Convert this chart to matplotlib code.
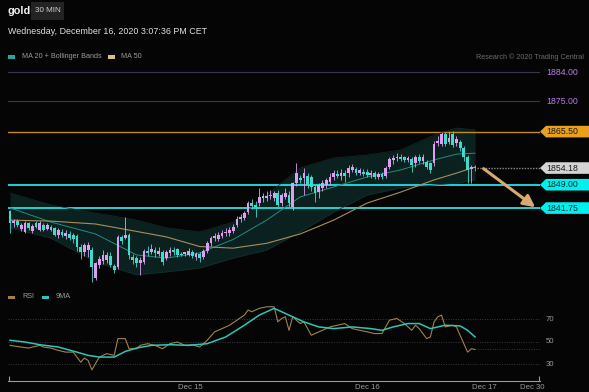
import numpy as np
import matplotlib
matplotlib.use('Agg')
import matplotlib.pyplot as plt
from matplotlib.patches import Polygon, Rectangle
from matplotlib.transforms import blended_transform_factory

plt.rcParams['font.family'] = ['Liberation Sans', 'DejaVu Sans']

# 30 min candles (Dec 14 -> Dec 16 15:00)
opens = [1840.9, 1837.0, 1837.8, 1835.2, 1834.4, 1837.0, 1834.5, 1837.0, 1835.0, 1836.5,
         1835.2, 1836.0, 1835.5, 1833.4, 1834.4, 1833.2, 1833.8, 1833.4, 1833.1, 1829.8,
         1828.2, 1828.7, 1828.7, 1820.0, 1824.0, 1825.3, 1825.6, 1826.9, 1823.8, 1823.4,
         1832.9, 1832.5, 1833.4, 1826.7, 1826.2, 1824.6, 1825.1, 1828.5, 1828.2, 1828.7,
         1827.5, 1828.2, 1826.1, 1827.7, 1828.8, 1828.9, 1827.5, 1827.6, 1827.3, 1828.2,
         1826.7, 1827.5, 1826.5, 1828.3, 1830.8, 1832.3, 1832.2, 1833.0, 1834.0, 1834.0,
         1834.7, 1836.5, 1838.5, 1838.6, 1840.6, 1843.2, 1842.8, 1843.2, 1845.0, 1845.0,
         1845.5, 1844.8, 1846.3, 1843.2, 1845.3, 1845.8, 1842.0, 1849.4, 1851.0, 1851.0,
         1851.7, 1851.5, 1848.4, 1846.8, 1847.9, 1849.0, 1849.9, 1851.5, 1852.4, 1851.8,
         1852.6, 1852.5, 1853.7, 1853.8, 1852.6, 1853.0, 1853.0, 1852.0, 1852.5, 1851.5,
         1852.2, 1851.8, 1854.6, 1856.8, 1857.3, 1857.7, 1857.5, 1856.7, 1856.9, 1855.6,
         1857.5, 1856.4, 1856.2, 1855.6, 1855.6, 1862.0, 1861.8, 1864.9, 1862.4, 1864.8,
         1862.0, 1862.4, 1860.3, 1857.7, 1853.8, 1854.4]
highs = [1841.3, 1838.5, 1838.2, 1837.0, 1837.8, 1837.5, 1836.8, 1837.8, 1837.8, 1837.0,
         1837.0, 1836.5, 1836.0, 1835.5, 1835.2, 1834.8, 1834.5, 1834.0, 1833.8, 1830.5,
         1831.0, 1831.2, 1829.5, 1825.0, 1827.0, 1828.8, 1828.0, 1828.0, 1824.5, 1833.5,
         1833.5, 1839.1, 1834.0, 1827.5, 1827.0, 1826.5, 1829.0, 1830.0, 1830.5, 1829.5,
         1829.5, 1828.8, 1828.8, 1829.5, 1829.5, 1829.3, 1828.0, 1828.2, 1829.2, 1828.8,
         1828.2, 1828.0, 1829.0, 1831.5, 1833.0, 1834.0, 1834.2, 1835.0, 1835.5, 1836.0,
         1836.8, 1839.2, 1840.0, 1840.8, 1843.8, 1844.5, 1844.0, 1848.0, 1846.3, 1847.0,
         1847.5, 1847.0, 1847.5, 1846.5, 1848.0, 1847.0, 1850.0, 1855.6, 1852.0, 1854.1,
         1852.5, 1852.0, 1849.0, 1849.5, 1850.5, 1851.2, 1852.5, 1853.5, 1853.5, 1854.0,
         1853.5, 1855.0, 1855.5, 1854.5, 1854.2, 1854.0, 1853.8, 1853.5, 1853.2, 1853.0,
         1852.8, 1854.8, 1857.5, 1858.2, 1858.7, 1858.5, 1858.0, 1858.0, 1857.5, 1858.2,
         1858.5, 1858.6, 1856.8, 1856.0, 1862.5, 1864.0, 1865.5, 1865.5, 1865.3, 1865.6,
         1864.0, 1863.0, 1861.0, 1858.2, 1855.0, 1855.2]
lows = [1833.9, 1836.0, 1836.0, 1834.5, 1834.0, 1835.0, 1834.0, 1835.5, 1834.5, 1834.5,
        1834.8, 1834.5, 1833.0, 1832.5, 1832.8, 1832.0, 1831.8, 1831.0, 1828.5, 1826.0,
        1827.0, 1826.5, 1818.9, 1819.5, 1823.0, 1824.5, 1824.8, 1823.5, 1821.5, 1822.8,
        1830.5, 1832.0, 1826.0, 1824.5, 1823.5, 1821.0, 1824.5, 1827.0, 1827.5, 1826.5,
        1826.8, 1824.0, 1825.5, 1827.0, 1827.3, 1826.5, 1826.8, 1827.0, 1826.8, 1826.3,
        1825.5, 1825.0, 1825.8, 1827.8, 1830.0, 1831.5, 1831.5, 1832.5, 1833.2, 1833.0,
        1834.0, 1836.0, 1837.5, 1838.0, 1840.0, 1841.5, 1839.1, 1842.5, 1843.5, 1844.0,
        1844.5, 1844.0, 1842.0, 1842.5, 1844.5, 1842.2, 1841.3, 1848.5, 1849.5, 1845.8,
        1848.0, 1847.0, 1843.7, 1845.0, 1847.0, 1848.0, 1849.0, 1850.5, 1851.0, 1850.5,
        1850.0, 1851.5, 1853.0, 1852.0, 1852.0, 1851.8, 1851.3, 1851.0, 1850.8, 1850.8,
        1850.8, 1851.2, 1854.0, 1855.5, 1856.5, 1856.5, 1856.0, 1856.0, 1853.0, 1854.5,
        1855.8, 1855.5, 1854.0, 1852.5, 1854.8, 1861.0, 1861.0, 1861.0, 1861.8, 1860.8,
        1861.0, 1859.5, 1856.5, 1849.4, 1849.6, 1853.3]
closes = [1837.2, 1837.8, 1836.5, 1836.5, 1837.2, 1835.5, 1836.2, 1836.0, 1837.2, 1835.0,
          1836.4, 1835.0, 1833.4, 1835.0, 1833.4, 1833.9, 1832.4, 1832.0, 1829.8, 1828.2,
          1830.3, 1830.3, 1823.5, 1824.6, 1825.8, 1827.2, 1827.2, 1824.1, 1822.5, 1832.9,
          1831.5, 1833.4, 1827.2, 1825.6, 1824.6, 1825.6, 1828.5, 1827.7, 1828.9, 1827.8,
          1828.5, 1825.1, 1828.2, 1828.7, 1828.0, 1827.2, 1827.2, 1827.8, 1828.5, 1826.9,
          1827.6, 1826.1, 1828.5, 1831.0, 1832.5, 1833.2, 1833.4, 1834.1, 1834.4, 1835.0,
          1836.0, 1838.5, 1839.0, 1840.1, 1843.2, 1842.5, 1842.2, 1845.1, 1845.3, 1845.5,
          1845.9, 1846.3, 1842.7, 1845.8, 1846.5, 1843.2, 1849.4, 1852.5, 1850.5, 1852.5,
          1849.0, 1848.4, 1846.3, 1848.9, 1849.4, 1850.5, 1851.5, 1852.5, 1851.8, 1852.7,
          1851.6, 1854.1, 1854.4, 1852.5, 1853.5, 1852.4, 1852.0, 1852.7, 1851.5, 1852.2,
          1851.3, 1854.1, 1856.9, 1857.2, 1857.7, 1857.0, 1856.6, 1857.3, 1855.1, 1857.5,
          1856.4, 1857.5, 1854.6, 1853.6, 1861.8, 1862.6, 1864.9, 1861.8, 1863.4, 1861.3,
          1863.2, 1860.3, 1857.7, 1853.6, 1854.4, 1854.2]

# MA 20 + Bollinger Bands and MA 50, read at some bars
ind_idx = [0, 11, 23, 34, 42, 51, 60, 69, 78, 87, 96, 105, 114, 120, 125]
bb_upper = [1846.4, 1842.7, 1840.2, 1838.0, 1835.6, 1834.3, 1837.4, 1845.8, 1854.2, 1857.3,
            1858.2, 1859.8, 1864.4, 1866.6, 1866.0]
bb_lower = [1835.6, 1832.4, 1825.0, 1821.0, 1821.9, 1823.1, 1826.2, 1828.7, 1834.3, 1840.5,
            1845.8, 1848.0, 1848.9, 1849.5, 1850.5]
ma20 = [1841.8, 1837.4, 1833.7, 1827.2, 1826.2, 1827.8, 1832.0, 1838.0, 1845.2, 1848.3,
        1851.4, 1853.6, 1856.7, 1858.5, 1858.8]
ma50 = [1838.0, 1837.7, 1836.8, 1834.5, 1832.8, 1829.8, 1829.3, 1830.8, 1833.7, 1838.0,
        1843.3, 1846.7, 1850.5, 1852.6, 1854.5]

# RSI and its 9MA
rsi_idx = [0, 3, 5, 6, 8, 9, 11, 13, 15, 17, 18, 19, 20, 21, 22, 24, 26, 28, 29, 31,
           32, 34, 35, 37, 39, 41, 43, 45, 47, 49, 51, 53, 55, 57, 59, 61, 63, 64, 65, 67,
           69, 71, 72, 73, 74, 75, 76, 78, 79, 81, 83, 84, 86, 88, 90, 92, 94, 96, 98, 100,
           102, 104, 106, 108, 109, 110, 112, 113, 114, 115, 116, 117, 119, 120, 122, 123, 124, 125]
rsi_val = [47.0, 45.5, 44.6, 45.5, 47.0, 45.5, 44.6, 42.5, 41.0, 41.0, 36.6, 32.1, 35.7, 33.6,
           25.2, 36.6, 39.6, 38.1, 53.0, 53.0, 44.0, 44.0, 47.0, 48.5, 47.0, 44.0, 48.5, 50.0,
           47.0, 47.6, 45.5, 51.5, 59.0, 61.9, 64.9, 69.4, 73.9, 78.4, 76.9, 79.9, 81.3, 81.3,
           67.9, 70.9, 72.4, 60.4, 72.4, 66.4, 67.9, 56.0, 59.0, 60.4, 63.4, 64.9, 66.4, 61.9,
           60.4, 59.0, 57.5, 57.5, 69.4, 70.9, 66.4, 60.4, 64.9, 61.9, 53.0, 54.5, 67.9, 72.4,
           73.9, 63.4, 64.9, 63.4, 48.5, 41.0, 44.0, 43.4]
ma9_idx = [0, 4, 8, 13, 18, 21, 24, 28, 31, 34, 38, 43, 48, 53, 58, 63, 67, 71, 75, 79,
           83, 87, 92, 97, 100, 103, 107, 110, 113, 117, 121, 123, 125]
ma9_val = [51.5, 50.0, 47.6, 45.5, 41.0, 38.1, 36.6, 36.6, 41.6, 44.6, 47.0, 47.6, 47.0, 48.5,
           54.5, 64.9, 73.9, 79.9, 73.9, 67.9, 63.4, 61.9, 63.4, 61.9, 60.4, 63.4, 66.4, 66.4,
           61.9, 64.9, 64.3, 60.4, 54.5]

tick_pos = [48.4, 96.0, 127.4, 140.3]
tick_labels = ['Dec 15', 'Dec 16', 'Dec 17', 'Dec 30']

last_price = 1854.18

W, H = 589, 392
bg = '#050505'
fig = plt.figure(figsize=(W / 100, H / 100), dpi=100, facecolor=bg)

def fx(px):
    return px / W

def fy(py):
    return 1 - py / H

xmin, xmax = -0.54, 142.47

# price panel
ax = fig.add_axes([fx(8), fy(285), fx(532), 221 / H])
ax.set_facecolor(bg)
ax.set_xlim(xmin, xmax)
ax.set_ylim(1817.85, 1886.5)
for s in ax.spines.values():
    s.set_visible(False)
ax.set_xticks([])
ax.set_yticks([])

ax.fill_between(ind_idx, bb_lower, bb_upper, color='#0b2120', lw=0, zorder=1)
ax.plot(ind_idx, bb_upper, color='#12302e', lw=0.5, zorder=1.5)
ax.plot(ind_idx, bb_lower, color='#12302e', lw=0.5, zorder=1.5)
ax.plot(ind_idx, ma20, color='#268a82', lw=0.7, zorder=2)
ax.plot(ind_idx, ma50, color='#a88d5e', lw=0.8, zorder=2)

# horizontal levels
ax.axhline(1884.00, color='#3d3350', lw=0.8, zorder=1)
ax.axhline(1875.00, color='#3d3350', lw=0.8, zorder=1)
ax.axhline(1865.50, color='#c48a22', lw=1.0, zorder=1)
ax.axhline(1849.00, color='#1fd3d3', lw=1.4, zorder=1)
ax.axhline(1841.75, color='#1fd3d3', lw=1.4, zorder=1)
ax.hlines(last_price, len(closes) - 0.5, xmax, color='#8a8a8a', lw=1.0,
          linestyles=(0, (1, 1)), zorder=1)

# candles
x = np.arange(len(closes))
o = np.array(opens)
c = np.array(closes)
up = c >= o
cols = np.where(up, '#dd9ff0', '#3fdccd')
ax.vlines(x, lows, highs, colors=cols, lw=0.6, zorder=3)
body_h = np.maximum(np.abs(c - o), 0.4)
ax.bar(x, body_h, bottom=np.minimum(o, c), width=0.74, color=cols, lw=0, zorder=4)

# projection arrow
ax.annotate('', xy=(141.2, 1842.0), xytext=(127.3, 1854.0),
            arrowprops=dict(arrowstyle='-|>,head_width=0.35,head_length=0.7',
                            color='#d8a970', lw=2.2, shrinkA=0, shrinkB=0), zorder=5)

# right side price tags
tr = blended_transform_factory(fig.transFigure, ax.transData)
hh = 5.8 / 3.22
tags = [(1865.50, '#e9a01d', '#1a1a1a'), (1854.18, '#d4d4d4', '#1a1a1a'),
        (1849.00, '#00f0f0', '#0a2a2a'), (1841.75, '#00f0f0', '#0a2a2a')]
for val, fc, tc in tags:
    poly = Polygon([(fx(540), val), (fx(546), val + hh), (1.0, val + hh),
                    (1.0, val - hh), (fx(546), val - hh)], closed=True,
                   transform=tr, facecolor=fc, edgecolor='none', clip_on=False, zorder=6)
    ax.add_patch(poly)
    ax.text(fx(546), val, f'{val:.2f}', transform=tr, color=tc, fontsize=6.3,
            va='center', ha='left', clip_on=False, zorder=7)
for val in [1884.00, 1875.00]:
    ax.text(fx(546), val, f'{val:.2f}', transform=tr, color='#b57de6', fontsize=6.3,
            va='center', ha='left', clip_on=False)

# RSI panel
ax2 = fig.add_axes([fx(8), fy(381), fx(532), 81 / H])
ax2.set_facecolor(bg)
ax2.set_xlim(xmin, xmax)
ax2.set_ylim(15.33, 87.33)
for s in ['top', 'right', 'left']:
    ax2.spines[s].set_visible(False)
ax2.spines['bottom'].set_color('#9a9a9a')
ax2.spines['bottom'].set_linewidth(0.8)
ax2.set_yticks([])
ax2.set_xticks(tick_pos)
ax2.set_xticklabels(tick_labels, color='#9a9a9a', fontsize=5.6)
ax2.tick_params(axis='x', length=0, pad=2.5)
ax2.vlines([xmin + 0.15, xmax - 0.15], 15.33, 19.5, color='#9a9a9a', lw=0.8, clip_on=False)
for lvl in [70, 50, 30]:
    ax2.axhline(lvl, color='#3a3a3a', lw=0.7, linestyle=(0, (1, 1.5)))
    ax2.text(xmax + 1.6, lvl, str(lvl), color='#9a9a9a', fontsize=5.6, va='center',
             ha='left', clip_on=False)
ax2.hlines(rsi_val[-1], rsi_idx[-1], xmax, color='#3a3a3a', lw=0.7, linestyles=(0, (1, 1.5)))
ax2.plot(rsi_idx, rsi_val, color='#a0824a', lw=0.8, zorder=3)
ax2.plot(ma9_idx, ma9_val, color='#2ec6b8', lw=1.1, zorder=4)

# header
fig.text(fx(7), fy(11), 'gold', color='#f0f0f0', fontsize=7.8, fontweight='bold', va='center')
fig.patches.append(Rectangle((fx(31), fy(20)), fx(33), 18 / H, transform=fig.transFigure,
                             facecolor='#232323', edgecolor='none'))
fig.text(fx(47.5), fy(11), '30 MIN', color='#d0d0d0', fontsize=5.8, va='center', ha='center')
fig.text(fx(8), fy(31), 'Wednesday, December 16, 2020 3:07:36 PM CET', color='#e0e0e0',
         fontsize=6.4, va='center')

# legends
def swatch(px, py, color):
    fig.patches.append(Rectangle((fx(px), fy(py + 1.5)), fx(7), 3 / H,
                                 transform=fig.transFigure, facecolor=color, edgecolor='none'))

swatch(8, 57, '#2aa79c')
fig.text(fx(22), fy(57), 'MA 20 + Bollinger Bands', color='#9a9a9a', fontsize=5.2, va='center')
swatch(108, 57, '#d8bf8a')
fig.text(fx(121), fy(57), 'MA 50', color='#9a9a9a', fontsize=5.2, va='center')
fig.text(fx(584), fy(57), 'Research \u00a9 2020 Trading Central', color='#6a6a6a',
         fontsize=5.2, va='center', ha='right')
swatch(8, 297, '#a0824a')
fig.text(fx(22), fy(297), 'RSI', color='#9a9a9a', fontsize=5.2, va='center')
swatch(42, 297, '#2ec6b8')
fig.text(fx(56), fy(297), '9MA', color='#9a9a9a', fontsize=5.2, va='center')

fig.savefig('out.png', dpi=100, facecolor=bg)
